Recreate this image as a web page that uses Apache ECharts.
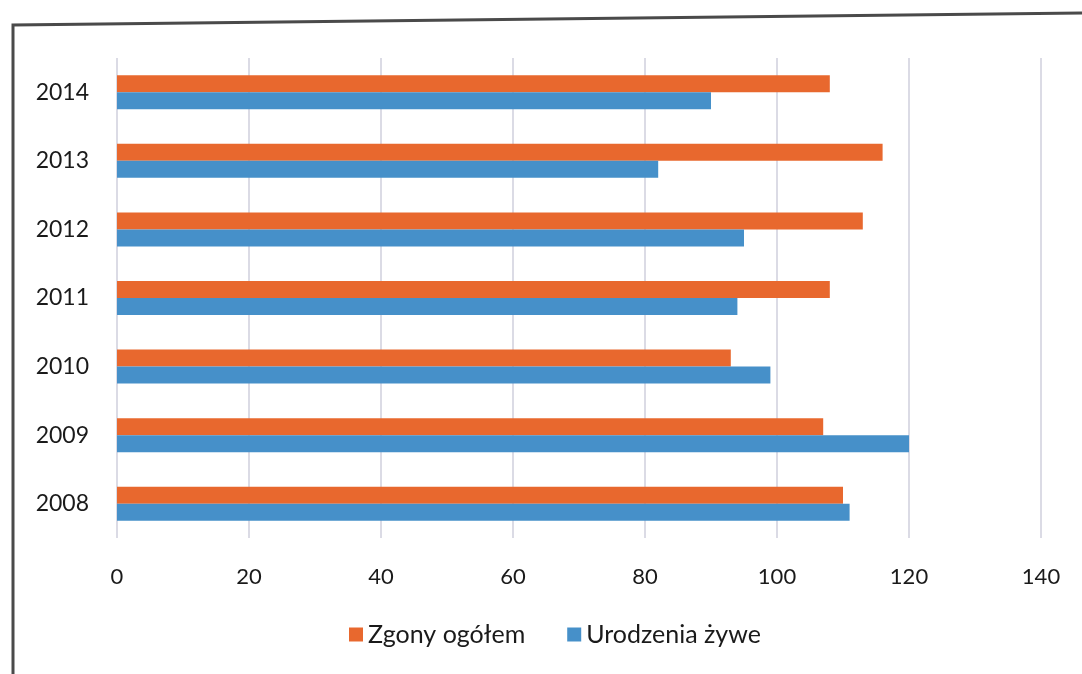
<!DOCTYPE html>
<html>
<head>
<meta charset="utf-8">
<style>
  html, body { margin: 0; padding: 0; background: #fff; }
  #chart { width: 1082px; height: 674px; }
</style>
<script src="https://cdn.jsdelivr.net/npm/echarts@6/dist/echarts.min.js"></script>
</head>
<body>
<div id="chart"></div>
<script>
const years = ['2008', '2009', '2010', '2011', '2012', '2013', '2014'];
const zgony = [110, 107, 93, 108, 113, 116, 108];
const urodzenia = [111, 120, 99, 94, 95, 82, 90];
const xTicks = { min: 0, max: 140, interval: 20 };
const seriesNames = ['Zgony ogółem', 'Urodzenia żywe'];

const chart = echarts.init(document.getElementById('chart'));
const font = 'Lato';
chart.setOption({
  animation: false,
  backgroundColor: '#ffffff',
  graphic: [
    { type: 'polyline', shape: { points: [[13, 674], [13, 25], [1082, 13]] },
      style: { stroke: '#4a4a4a', lineWidth: 3, fill: null } }
  ],
  legend: {
    left: 344, top: 617,
    itemWidth: 14, itemHeight: 14, itemGap: 42,
    icon: 'rect',
    textStyle: { fontFamily: font, fontSize: 25, color: '#1a1a1a' },
    data: seriesNames
  },
  grid: { left: 117, right: 41, top: 58, height: 480, containLabel: false },
  xAxis: {
    type: 'value', min: xTicks.min, max: xTicks.max, interval: xTicks.interval,
    axisLine: { show: false }, axisTick: { show: false },
    splitLine: { show: true, lineStyle: { color: '#cfcfdc', width: 1.5 } },
    axisLabel: { margin: 28, fontFamily: font, fontSize: 22, color: '#1a1a1a' }
  },
  yAxis: {
    type: 'category', data: years,
    axisLine: { show: false }, axisTick: { show: false },
    axisLabel: { margin: 28, fontFamily: font, fontSize: 23, color: '#1a1a1a' }
  },
  series: [
    { name: seriesNames[0], type: 'bar', data: zgony, barWidth: 17, barGap: '0%',
      itemStyle: { color: '#E8682E' } },
    { name: seriesNames[1], type: 'bar', data: urodzenia, barWidth: 17, barGap: '0%',
      itemStyle: { color: '#4690C9' } }
  ]
});
</script>
</body>
</html>
